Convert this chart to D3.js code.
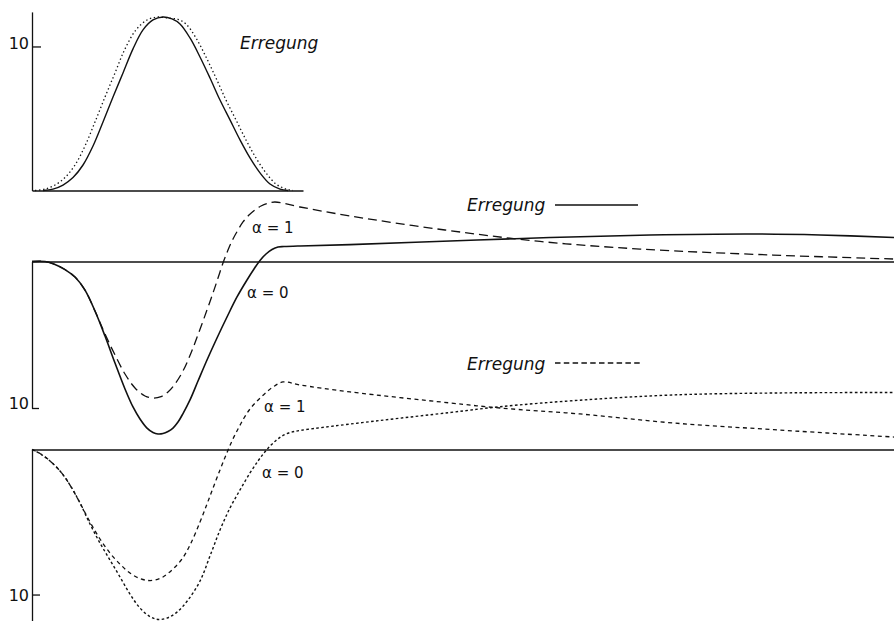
<!DOCTYPE html>
<html>
<head>
<meta charset="utf-8">
<script src="https://cdn.jsdelivr.net/npm/d3@7"></script>
<style>
  html, body { margin: 0; padding: 0; background: #fff; }
  svg { display: block; }
  text { font-family: "DejaVu Sans", sans-serif; fill: #111; }
</style>
</head>
<body>
<svg id="chart" width="894" height="621"></svg>
<script>
// Time t in arbitrary units; values in the units of the "10" tick.

// Excitation pulses (top panel)
const pulseSolid = [[1.1,0],[2.1,0.1],[3.1,0.38],[4.1,0.9],[5.1,1.77],[6.1,3.09],[7.1,4.76],[8.1,6.49],[9.1,8.16],[10.1,9.83],[11.1,11.15],[12.1,11.84],[13.1,12.05],[14.0,11.91],[14.8,11.56],[15.8,10.59],[16.8,9.27],[17.8,7.81],[18.8,6.28],[19.8,4.9],[20.8,3.51],[21.8,2.26],[22.8,1.22],[23.8,0.45],[24.8,0.1],[25.6,0]];
const pulseDotted = [[0.3,0],[1.3,0.1],[2.3,0.38],[3.3,0.9],[4.3,1.77],[5.3,3.09],[6.3,4.76],[7.3,6.49],[8.3,8.16],[9.3,9.83],[10.4,11.15],[11.5,11.84],[12.6,12.05],[13.6,11.97],[14.6,11.88],[15.4,11.56],[16.4,10.59],[17.4,9.27],[18.4,7.81],[19.4,6.28],[20.4,4.9],[21.4,3.51],[22.4,2.26],[23.4,1.22],[24.4,0.45],[25.4,0.1],[26.1,0]];

// Response to the solid excitation (middle panel)
const midAlpha0 = [[0,0],[1.3,0],[2.3,-0.2],[3.3,-0.55],[4.3,-1.06],[5.3,-1.95],[6.3,-3.38],[7.3,-5.09],[8.3,-6.93],[9.3,-8.7],[10.1,-9.93],[10.8,-10.75],[11.5,-11.37],[12.1,-11.67],[12.6,-11.77],[13.1,-11.74],[13.6,-11.6],[14.1,-11.37],[14.6,-10.96],[15.1,-10.38],[15.8,-9.45],[16.6,-8.16],[17.5,-6.72],[18.5,-5.22],[19.5,-3.79],[20.5,-2.42],[21.5,-1.26],[22.2,-0.51],[22.8,0.07],[23.4,0.51],[24.0,0.82],[24.6,0.99],[25.2,1.02],[26.8,1.06],[31.8,1.15],[41.8,1.4],[51.8,1.64],[61.8,1.81],[71.8,1.88],[78.8,1.81],[86.2,1.64]];
const midAlpha1 = [[0,0],[1.3,0],[2.3,-0.2],[3.3,-0.55],[4.3,-1.06],[5.3,-1.95],[6.3,-3.38],[7.3,-4.95],[8.3,-6.38],[9.3,-7.68],[10.3,-8.63],[11.3,-9.18],[12.1,-9.32],[12.9,-9.22],[13.6,-8.91],[14.3,-8.36],[15.1,-7.47],[15.9,-6.25],[16.7,-4.81],[17.5,-3.31],[18.1,-2.15],[18.6,-1.13],[19.1,-0.1],[19.6,0.78],[20.1,1.54],[20.6,2.15],[21.1,2.7],[21.7,3.17],[22.3,3.52],[22.9,3.79],[23.5,3.96],[24.3,4.06],[26.8,3.72],[31.8,3.11],[41.3,2.15],[50.8,1.37],[60.8,0.85],[74.1,0.44],[86.2,0.17]];

// Response to the dotted excitation (bottom panel)
const lowAlpha0 = [[0,0],[0.8,-0.28],[1.8,-0.79],[2.8,-1.48],[3.8,-2.45],[4.8,-3.69],[5.8,-5.14],[6.8,-6.45],[7.8,-7.62],[8.8,-8.79],[9.8,-9.97],[10.8,-10.93],[11.8,-11.52],[12.6,-11.72],[13.5,-11.62],[14.5,-11.21],[15.6,-10.38],[16.8,-9.07],[17.8,-7.34],[18.8,-5.55],[19.8,-4.03],[20.8,-2.79],[21.8,-1.62],[22.6,-0.79],[23.2,-0.24],[23.8,0.24],[24.4,0.62],[25.0,0.93],[25.8,1.17],[26.8,1.31],[28.8,1.5],[34.8,2.0],[41.8,2.55],[46.8,2.95],[54.8,3.4],[64.1,3.76],[74.8,3.9],[86.2,3.93]];
const lowAlpha1 = [[0,0],[0.8,-0.28],[1.8,-0.79],[2.8,-1.48],[3.8,-2.45],[4.8,-3.69],[5.8,-5.0],[6.8,-6.17],[7.8,-7.14],[8.8,-7.9],[9.8,-8.52],[10.8,-8.9],[11.6,-9.03],[12.3,-9.0],[13.1,-8.79],[14.1,-8.24],[15.0,-7.55],[15.8,-6.59],[16.8,-5.0],[17.5,-3.76],[18.1,-2.66],[18.8,-1.41],[19.4,-0.38],[20.0,0.59],[20.6,1.41],[21.2,2.17],[21.8,2.79],[22.5,3.34],[23.3,3.86],[24.1,4.31],[25.1,4.66],[26.8,4.45],[31.8,3.97],[41.8,3.21],[46.8,2.86],[54.8,2.45],[64.1,1.83],[74.8,1.34],[86.2,0.86]];

// Tick values and label texts
const topTicks = [10];
const respTicks = [-10];
const legendWord = "Erregung";
const alphaLabels = ["α = 1", "α = 0"];

const svg = d3.select("#chart");
const ink = "#111";

// Horizontal scales: the top panel is a short copy of the full time axis
const x = d3.scaleLinear().domain([0, 86.2]).range([32, 894]);
const xTop = d3.scaleLinear().domain([0, 27.1]).range([32, 303]);

// Vertical scales for the three panels
const yTop = d3.scaleLinear().domain([0, 12.4]).range([190.5, 11.9]);
const yMid = d3.scaleLinear().domain([0, -10]).range([261.5, 408]);
const yLow = d3.scaleLinear().domain([0, -12.5]).range([449.5, 630.8]);

function drawAxes(xs, ys, ticks, tickLen, dy) {
  const gy = svg.append("g")
    .attr("transform", `translate(${xs(0)},0)`)
    .call(d3.axisLeft(ys).tickValues(ticks).tickSizeInner(-tickLen)
      .tickSizeOuter(0).tickPadding(3).tickFormat(d => Math.abs(d)));
  gy.attr("font-family", null).attr("font-size", null);
  gy.selectAll("path, line").attr("stroke", ink).attr("stroke-width", 1.3);
  gy.selectAll("text").attr("font-size", 16).attr("dy", dy).attr("fill", ink);

  const gx = svg.append("g")
    .attr("transform", `translate(0,${ys(0)})`)
    .call(d3.axisBottom(xs).tickValues([]).tickSizeOuter(0));
  gx.selectAll("path").attr("stroke", ink).attr("stroke-width", 1.3);
}

drawAxes(xTop, yTop, topTicks, 9, "0.1em");
drawAxes(x, yMid, respTicks, 7, "0em");
drawAxes(x, yLow, respTicks, 8, "0.38em");

function drawCurve(data, xs, ys, dash, width) {
  const line = d3.line()
    .x(d => xs(d[0]))
    .y(d => ys(d[1]))
    .curve(d3.curveCatmullRom.alpha(0.5));
  svg.append("path")
    .datum(data)
    .attr("d", line)
    .attr("fill", "none")
    .attr("stroke", ink)
    .attr("stroke-width", width)
    .attr("stroke-dasharray", dash);
}

// Top panel: two excitation pulses
drawCurve(pulseSolid, xTop, yTop, null, 1.4);
drawCurve(pulseDotted, xTop, yTop, "1.4,2.6", 1.3);

// Middle panel
drawCurve(midAlpha0, x, yMid, null, 1.6);
drawCurve(midAlpha1, x, yMid, "9,5", 1.3);

// Bottom panel
drawCurve(lowAlpha0, x, yLow, "2.6,2.4", 1.4);
drawCurve(lowAlpha1, x, yLow, "4,3.5", 1.3);

// Labels
function label(txt, px, py, size, italic) {
  svg.append("text")
    .attr("x", px).attr("y", py)
    .attr("font-size", size)
    .attr("font-style", italic ? "oblique" : "normal")
    .text(txt);
}

label(legendWord, 240, 49, 17, true);
label(legendWord, 467, 211, 17, true);
label(legendWord, 467, 370, 17, true);

// Legend line samples next to the words
svg.append("line").attr("x1", 555).attr("x2", 638).attr("y1", 205).attr("y2", 205)
  .attr("stroke", ink).attr("stroke-width", 1.3);
svg.append("line").attr("x1", 555).attr("x2", 643).attr("y1", 363).attr("y2", 363)
  .attr("stroke", ink).attr("stroke-width", 1.3).attr("stroke-dasharray", "5.5,3.3");

label(alphaLabels[0], 252, 233, 15, false);
label(alphaLabels[1], 247, 298, 15, false);
label(alphaLabels[0], 264, 412, 15, false);
label(alphaLabels[1], 262, 478, 15, false);
</script>
</body>
</html>
